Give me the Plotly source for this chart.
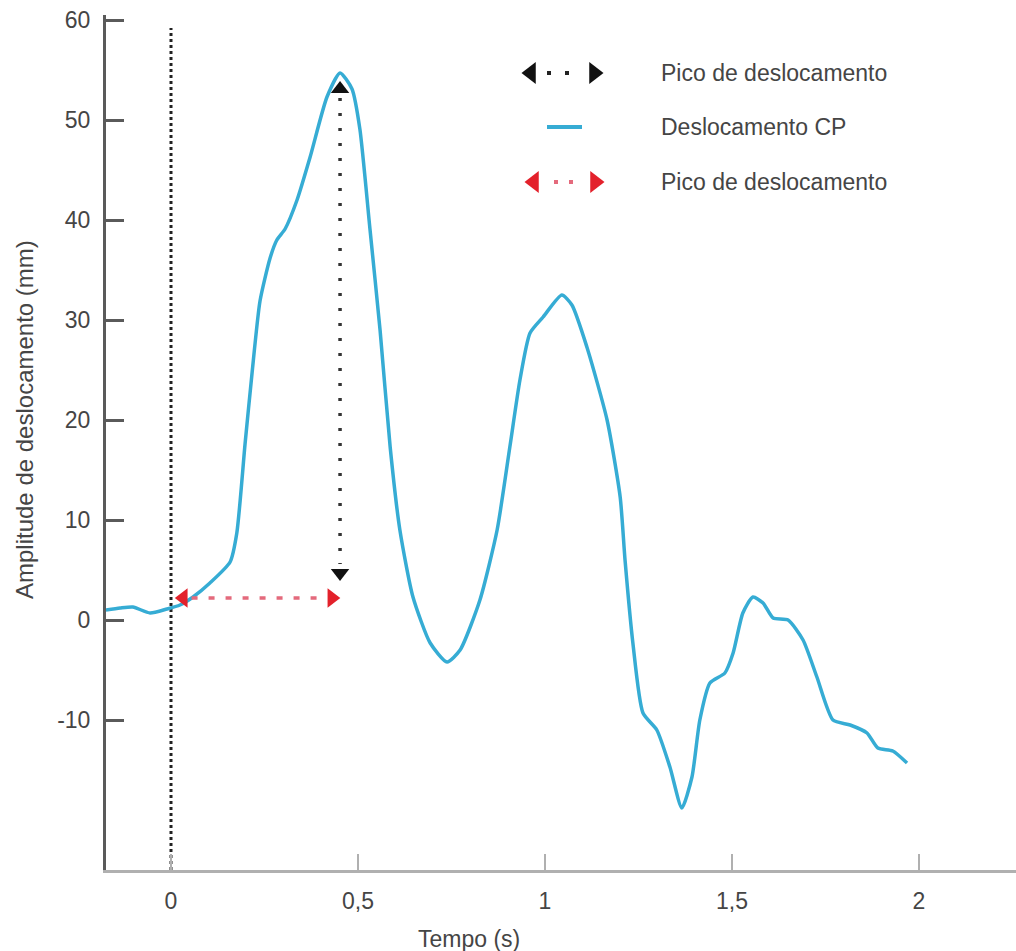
import plotly.graph_objects as go

# ---------------- data ----------------
time_s = [-0.174, -0.136, -0.102, -0.056, -0.011, 0.024, 0.059, 0.104, 0.158, 0.176,
          0.198, 0.217, 0.238, 0.265, 0.283, 0.305, 0.337, 0.372, 0.417, 0.452,
          0.484, 0.505, 0.532, 0.559, 0.586, 0.612, 0.647, 0.693, 0.738, 0.773,
          0.826, 0.872, 0.906, 0.933, 0.960, 0.995, 1.045, 1.072, 1.112, 1.166,
          1.201, 1.214, 1.235, 1.262, 1.299, 1.334, 1.366, 1.393, 1.414, 1.441,
          1.481, 1.503, 1.529, 1.556, 1.583, 1.610, 1.650, 1.690, 1.727, 1.770,
          1.816, 1.861, 1.890, 1.930, 1.968]
cp_mm = [1.0, 1.2, 1.3, 0.7, 1.1, 1.5, 2.3, 3.7, 5.8, 8.7,
         17.6, 24.8, 31.9, 36.2, 38.0, 39.1, 42.0, 46.3, 52.3, 54.7,
         53.1, 49.1, 39.1, 29.0, 17.3, 9.0, 2.3, -2.3, -4.2, -3.0,
         2.0, 9.0, 17.3, 24.0, 28.7, 30.3, 32.5, 31.5, 27.3, 20.0,
         12.3, 6.0, -2.3, -9.3, -11.0, -14.7, -18.8, -15.7, -10.0, -6.3,
         -5.3, -3.3, 0.7, 2.3, 1.7, 0.2, 0.0, -2.0, -5.7, -10.0,
         -10.5, -11.3, -12.8, -13.1, -14.3]

x_tick_vals = [0, 0.5, 1, 1.5, 2]
x_tick_text = ["0", "0,5", "1", "1,5", "2"]
y_tick_vals = [-10, 0, 10, 20, 30, 40, 50, 60]
y_tick_text = ["-10", "0", "10", "20", "30", "40", "50", "60"]

onset_time = 0.0
onset_line_y = [-25, 59.2]
peak_time = 0.452
peak_arrow_y = [54.0, 3.8]          # black arrow: top tip, bottom tip
latency_arrow_x = [0.011, 0.452]    # red arrow: left tip, right tip
latency_arrow_y = 2.2

legend_labels = ["Pico de deslocamento", "Deslocamento CP", "Pico de deslocamento"]

X_RANGE = [-0.1738, 2.2594]
Y_RANGE = [-25, 60.5]

FONT = "Liberation Sans, Arial, Helvetica, sans-serif"
FS = 23
BLUE = "#36acd4"
RED = "#e3212b"
RED_DASH = "#e46a7c"
TXT = "#454545"

fig = go.Figure()

# onset dotted vertical line
fig.add_trace(go.Scatter(x=[onset_time, onset_time], y=onset_line_y, mode="lines",
                         line=dict(color="#222222", width=3, dash="dot"),
                         showlegend=False, hoverinfo="skip"))

# CP displacement curve
fig.add_trace(go.Scatter(x=time_s, y=cp_mm, mode="lines",
                         line=dict(color=BLUE, width=3.5, shape="spline", smoothing=0.6),
                         showlegend=False))

# black peak arrow (vertical)
half_v = 0.9   # half triangle height in mm units
fig.add_trace(go.Scatter(x=[peak_time, peak_time],
                         y=[peak_arrow_y[0] - 2 * half_v, peak_arrow_y[1] + 2 * half_v],
                         mode="lines", line=dict(color="#333333", width=3.5, dash="3px,12px"),
                         showlegend=False, hoverinfo="skip"))
fig.add_trace(go.Scatter(x=[peak_time], y=[peak_arrow_y[0] - half_v], mode="markers",
                         marker=dict(symbol="triangle-up", size=16, color="#111111"),
                         showlegend=False, hoverinfo="skip"))
fig.add_trace(go.Scatter(x=[peak_time], y=[peak_arrow_y[1] + half_v], mode="markers",
                         marker=dict(symbol="triangle-down", size=16, color="#111111"),
                         showlegend=False, hoverinfo="skip"))

# red latency arrow (horizontal)
half_h = 0.022  # half triangle width in seconds
fig.add_trace(go.Scatter(x=[latency_arrow_x[0] + 2 * half_h, latency_arrow_x[1] - 2 * half_h],
                         y=[latency_arrow_y, latency_arrow_y],
                         mode="lines", line=dict(color=RED_DASH, width=3.5, dash="6px,11px"),
                         showlegend=False, hoverinfo="skip"))
fig.add_trace(go.Scatter(x=[latency_arrow_x[0] + half_h], y=[latency_arrow_y], mode="markers",
                         marker=dict(symbol="triangle-left", size=17, color=RED),
                         showlegend=False, hoverinfo="skip"))
fig.add_trace(go.Scatter(x=[latency_arrow_x[1] - half_h], y=[latency_arrow_y], mode="markers",
                         marker=dict(symbol="triangle-right", size=17, color=RED),
                         showlegend=False, hoverinfo="skip"))

# ---------------- custom legend on a pixel overlay axis ----------------
leg_y = [73, 127, 182]
# item 1: black arrow
fig.add_trace(go.Scatter(x=[549, 567], y=[leg_y[0]] * 2, mode="markers",
                         marker=dict(symbol="square", size=4, color="#222222"),
                         xaxis="x2", yaxis="y2", showlegend=False, hoverinfo="skip"))
fig.add_trace(go.Scatter(x=[531, 594], y=[leg_y[0]] * 2, mode="markers",
                         marker=dict(symbol=["triangle-left", "triangle-right"], size=19, color="#111111"),
                         xaxis="x2", yaxis="y2", showlegend=False, hoverinfo="skip"))
# item 2: blue line
fig.add_trace(go.Scatter(x=[547, 582], y=[leg_y[1]] * 2, mode="lines",
                         line=dict(color=BLUE, width=4),
                         xaxis="x2", yaxis="y2", showlegend=False, hoverinfo="skip"))
# item 3: red arrow
fig.add_trace(go.Scatter(x=[556, 571], y=[leg_y[2]] * 2, mode="markers",
                         marker=dict(symbol="square", size=4, color=RED_DASH),
                         xaxis="x2", yaxis="y2", showlegend=False, hoverinfo="skip"))
fig.add_trace(go.Scatter(x=[534, 595], y=[leg_y[2]] * 2, mode="markers",
                         marker=dict(symbol=["triangle-left", "triangle-right"], size=19, color=RED),
                         xaxis="x2", yaxis="y2", showlegend=False, hoverinfo="skip"))

annotations = []
for lbl, yy in zip(legend_labels, leg_y):
    annotations.append(dict(x=659, y=yy, xref="x2", yref="y2", text=lbl, showarrow=False,
                            xanchor="left", yanchor="middle",
                            font=dict(family=FONT, size=FS, color=TXT)))

# axis titles (paper coordinates; plot area spans x 106..1016, y 15..870 px)
annotations.append(dict(x=(469 - 106) / 910, y=(870 - 939) / 855, xref="paper", yref="paper",
                        text="Tempo (s)", showarrow=False,
                        xanchor="center", yanchor="middle",
                        font=dict(family=FONT, size=FS, color=TXT)))
annotations.append(dict(x=(24 - 106) / 910, y=(870 - 420) / 855, xref="paper", yref="paper",
                        text="Amplitude de deslocamento (mm)",
                        showarrow=False, textangle=-90, xanchor="center", yanchor="middle",
                        font=dict(family=FONT, size=24, color=TXT)))

fig.update_layout(
    width=1016, height=951,
    margin=dict(l=106, r=0, t=15, b=81),
    paper_bgcolor="white", plot_bgcolor="white",
    showlegend=False,
    annotations=annotations,
    xaxis=dict(range=X_RANGE, tickvals=x_tick_vals, ticktext=x_tick_text,
               showgrid=False, zeroline=False, showline=True, linecolor="#b0b0b0", linewidth=3,
               ticks="inside", ticklen=16, tickwidth=2, tickcolor="#b0b0b0",
               ticklabelstandoff=8,
               tickfont=dict(family=FONT, size=FS, color=TXT)),
    yaxis=dict(range=Y_RANGE, tickvals=y_tick_vals, ticktext=y_tick_text,
               showgrid=False, zeroline=False, showline=True, linecolor="#5a5a5a", linewidth=3,
               ticks="inside", ticklen=18, tickwidth=2.5, tickcolor="#5a5a5a",
               ticklabelstandoff=8,
               tickfont=dict(family=FONT, size=FS, color=TXT)),
    xaxis2=dict(range=[106, 1016], overlaying="x", visible=False, fixedrange=True),
    yaxis2=dict(range=[870, 15], overlaying="y", visible=False, fixedrange=True),
)

fig.write_html("out.html")
